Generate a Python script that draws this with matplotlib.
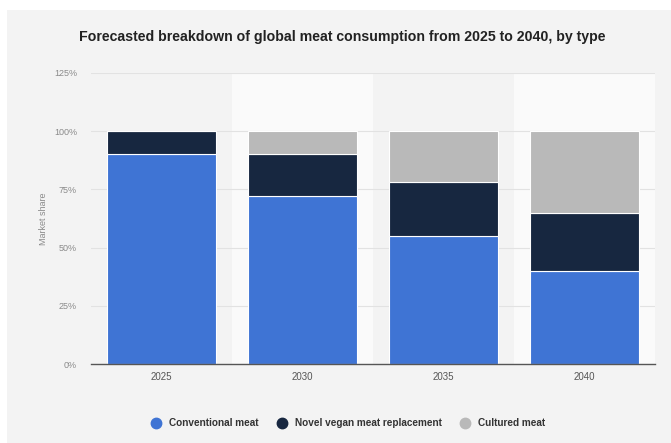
import matplotlib
matplotlib.use("Agg")
import matplotlib.pyplot as plt
from matplotlib.lines import Line2D
from matplotlib.patches import Rectangle
import numpy as np

# Data
years = ["2025", "2030", "2035", "2040"]
conventional = [90, 72, 55, 40]
novel_vegan = [10, 18, 23, 25]
cultured = [0, 10, 22, 35]
series_names = ["Conventional meat", "Novel vegan meat replacement", "Cultured meat"]
y_ticks = [0, 25, 50, 75, 100, 125]

colors = ["#3f74d4", "#172740", "#b9b9b9"]
bg = "#f3f3f3"

plt.rcParams["font.family"] = ["Liberation Sans", "DejaVu Sans"]

fig = plt.figure(figsize=(6.71, 4.43), dpi=100)
fig.patch.set_facecolor("white")
# gray panel behind the chart
fig.patches.append(Rectangle((7 / 671, 0), 1, 1 - 10 / 443, transform=fig.transFigure,
                             facecolor=bg, edgecolor="none", zorder=-10))

ax = fig.add_axes([91 / 671, 1 - 364 / 443, 564 / 671, 291 / 443])
ax.set_facecolor(bg)

x = np.arange(len(years))

# lighter bands behind every other column
for i in range(len(years)):
    if i % 2 == 1:
        ax.axvspan(i - 0.5, i + 0.5, color="#fafafa", zorder=0, lw=0)

width = 0.77
bottom = np.zeros(len(years))
for vals, col, name in zip([conventional, novel_vegan, cultured], colors, series_names):
    ax.bar(x, vals, width, bottom=bottom, color=col, edgecolor="white",
           linewidth=0.8, label=name, zorder=3)
    bottom += np.array(vals)

ax.set_xlim(-0.5, len(years) - 0.5)
ax.set_ylim(0, 125)
ax.set_yticks(y_ticks)
ax.set_yticklabels([f"{t}%" for t in y_ticks])
ax.set_xticks(x)
ax.set_xticklabels(years)
ax.tick_params(axis="y", length=0, labelsize=6.5, labelcolor="#8a8a8a", pad=10)
ax.tick_params(axis="x", length=0, labelsize=7, labelcolor="#555555", pad=6)
ax.grid(axis="y", color="#e2e2e2", linewidth=0.8, zorder=1)
ax.set_axisbelow(True)

for s in ["top", "right", "left"]:
    ax.spines[s].set_visible(False)
ax.spines["bottom"].set_color("#555555")
ax.spines["bottom"].set_linewidth(1.0)
ax.spines["bottom"].set_zorder(4)

ax.set_ylabel("Market share", fontsize=6.5, color="#8a8a8a", labelpad=4)

fig.text(0.51, 1 - 37 / 443, "Forecasted breakdown of global meat consumption from 2025 to 2040, by type",
         ha="center", va="center", fontsize=10.2, fontweight="bold", color="#222222")

handles = [Line2D([0], [0], marker="o", color="none", markerfacecolor=c,
                  markeredgecolor=c, markersize=7.5) for c in colors]
leg = fig.legend(handles, series_names, loc="center", bbox_to_anchor=(0.515, 1 - 423 / 443),
                 ncol=3, frameon=False, fontsize=7.2, handletextpad=0.3, columnspacing=1.3)
for t in leg.get_texts():
    t.set_fontweight("bold")
    t.set_color("#333333")

fig.savefig("out.png", dpi=100, facecolor=fig.get_facecolor())
